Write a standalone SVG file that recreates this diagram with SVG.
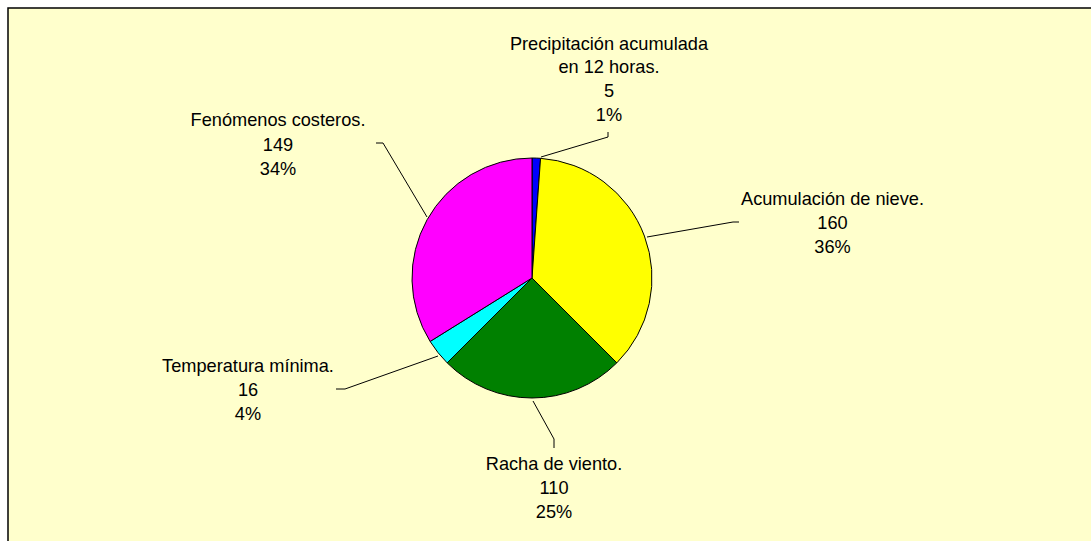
<svg xmlns="http://www.w3.org/2000/svg" width="1091" height="541" viewBox="0 0 1091 541">
<style>
.lbl{font-family:"Liberation Sans",Arial,sans-serif;font-size:18.2px;fill:#000;text-anchor:middle}
.slice{stroke:#000;stroke-width:1;stroke-linejoin:round}
.lead{fill:none;stroke:#000;stroke-width:1}
</style>
<rect x="0" y="0" width="1091" height="541" fill="#FFFFFF"/>
<rect x="8" y="8" width="1100" height="560" fill="#FFFFCC" stroke="#000" stroke-width="1.5"/>
<g id="pie">
<g id="slice-precipitacion"><path class="slice" fill="#0000FF" d="M532,278 L532,158 A120,120 0 0 1 540.56,158.31 Z"/></g>
<g id="slice-acumulacion"><path class="slice" fill="#FFFF00" d="M532,278 L540.56,158.31 A120,120 0 0 1 616.85,362.85 Z"/></g>
<g id="slice-racha"><path class="slice" fill="#008000" d="M532,278 L616.85,362.85 A120,120 0 0 1 447.15,362.85 Z"/></g>
<g id="slice-temperatura"><path class="slice" fill="#00FFFF" d="M532,278 L447.15,362.85 A120,120 0 0 1 430.14,341.44 Z"/></g>
<g id="slice-fenomenos"><path class="slice" fill="#FF00FF" d="M532,278 L430.14,341.44 A120,120 0 0 1 532,158 Z"/></g>
</g>
<g id="connectors">
<polyline class="lead" points="541,157 608,137 608,132"/>
<polyline class="lead" points="647,237 733,222 739,222"/>
<polyline class="lead" points="533,401 554,439 554,448"/>
<polyline class="lead" points="438,356 345,389 336,389"/>
<polyline class="lead" points="427,217 383,143 376,143"/>
</g>
<g id="label-precipitacion">
<text class="lbl" x="609" y="49.5">Precipitación acumulada</text>
<text class="lbl" x="609" y="73">en 12 horas.</text>
<text class="lbl" x="609" y="96.5">5</text>
<text class="lbl" x="609" y="120.5">1%</text>
</g>
<g id="label-acumulacion">
<text class="lbl" x="832.5" y="205">Acumulación de nieve.</text>
<text class="lbl" x="832.5" y="229">160</text>
<text class="lbl" x="832.5" y="253">36%</text>
</g>
<g id="label-fenomenos">
<text class="lbl" x="278" y="126">Fenómenos costeros.</text>
<text class="lbl" x="278" y="150.5">149</text>
<text class="lbl" x="278" y="175">34%</text>
</g>
<g id="label-temperatura">
<text class="lbl" x="248" y="371.5">Temperatura mínima.</text>
<text class="lbl" x="248" y="395.5">16</text>
<text class="lbl" x="248" y="419.5">4%</text>
</g>
<g id="label-racha">
<text class="lbl" x="554" y="470">Racha de viento.</text>
<text class="lbl" x="554" y="494">110</text>
<text class="lbl" x="554" y="518">25%</text>
</g>
</svg>
